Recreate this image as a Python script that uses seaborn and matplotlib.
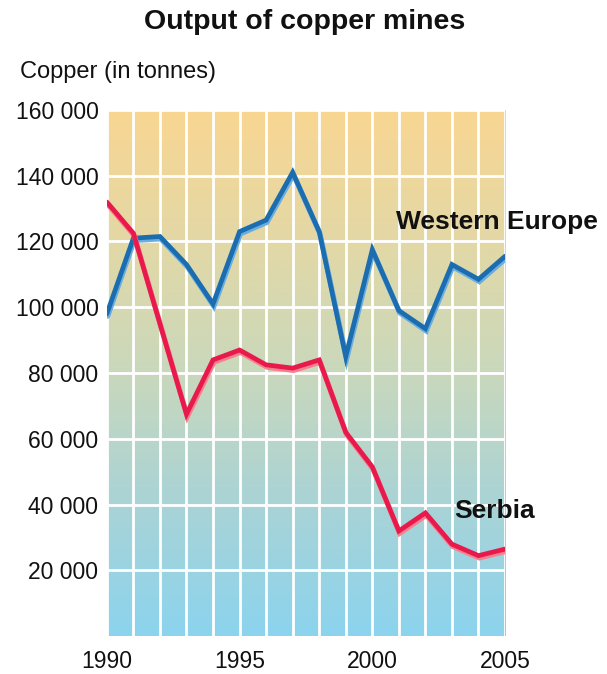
import numpy as np
import pandas as pd
import matplotlib
matplotlib.use('Agg')
import matplotlib.pyplot as plt
import matplotlib.patheffects as pe
from matplotlib.colors import LinearSegmentedColormap
from matplotlib.ticker import FuncFormatter
import seaborn as sns

# ===================== 数据 =====================
years = list(range(1990, 2006))
western_europe = [98000, 121000, 121500, 113000, 101000, 123000, 126500, 141000,
                  123000, 85000, 117500, 99000, 93500, 113000, 108500, 115500]
serbia = [132000, 122500, 95000, 67500, 84000, 87000, 82500, 81500,
          84000, 62000, 51500, 32000, 37500, 28000, 24500, 26500]
series_names = ['Western Europe', 'Serbia']
series_colors = {'Western Europe': '#1b6db0', 'Serbia': '#e8194b'}
shadow_colors = {'Western Europe': '#6aaee0', 'Serbia': '#f77f8f'}
y_ticks = [20000, 40000, 60000, 80000, 100000, 120000, 140000, 160000]
x_ticks = [1990, 1995, 2000, 2005]

df = pd.DataFrame({
    'year': years * 2,
    'tonnes': western_europe + serbia,
    'region': ['Western Europe'] * len(years) + ['Serbia'] * len(years),
})

# ===================== 绘图 =====================
sns.set_style('white')
plt.rcParams['font.family'] = ['Liberation Sans', 'DejaVu Sans']

fig = plt.figure(figsize=(6.07, 6.74), dpi=100)
ax = fig.add_axes([0.176, 0.056, 0.656, 0.781])

# 渐变背景
cmap = LinearSegmentedColormap.from_list(
    'bg', ['#8cd3ee', '#a9d3d6', '#c9d8bc', '#e3d8a6', '#f9d692'])
grad = np.linspace(0, 1, 256).reshape(-1, 1)
ax.imshow(grad, aspect='auto', cmap=cmap, origin='lower',
          extent=[1990, 2005, 0, 160000], zorder=0)

# 白色网格
for yr in years:
    ax.axvline(yr, color='white', lw=2, zorder=1)
for v in y_ticks:
    ax.axhline(v, color='white', lw=2, zorder=1)

sns.lineplot(data=df, x='year', y='tonnes', hue='region', palette=series_colors,
             hue_order=series_names, linewidth=3.4, legend=False, ax=ax, zorder=3)

for line, name in zip(ax.get_lines()[-2:], series_names):
    line.set_path_effects([
        pe.Stroke(linewidth=3.8, foreground=shadow_colors[name], offset=(0.6, -1.6)),
        pe.Normal(),
    ])
    line.set_solid_joinstyle('miter')

ax.set_xlim(1990, 2005)
ax.set_ylim(0, 160000)
ax.set_xticks(x_ticks)
ax.set_yticks(y_ticks)
ax.yaxis.set_major_formatter(FuncFormatter(lambda v, p: f'{int(v):,}'.replace(',', ' ')))
ax.tick_params(axis='both', length=0, labelsize=16.5, colors='#111111')
ax.tick_params(axis='x', pad=10)
ax.tick_params(axis='y', pad=6)
ax.set_xlabel('')
ax.set_ylabel('')
for s in ax.spines.values():
    s.set_visible(False)

fig.text(0.502, 0.967, 'Output of copper mines', ha='center', va='center',
         fontsize=20.5, fontweight='bold', color='#111111')
fig.text(0.033, 0.893, 'Copper (in tonnes)', ha='left', va='center',
         fontsize=17, color='#111111')
ax.text(2000.9, 126000, 'Western Europe', ha='left', va='center',
        fontsize=19, fontweight='bold', color='#111111', zorder=4, clip_on=False)
ax.text(2003.1, 38000, 'Serbia', ha='left', va='center',
        fontsize=19, fontweight='bold', color='#111111', zorder=4)

fig.savefig('out.png', dpi=100)
